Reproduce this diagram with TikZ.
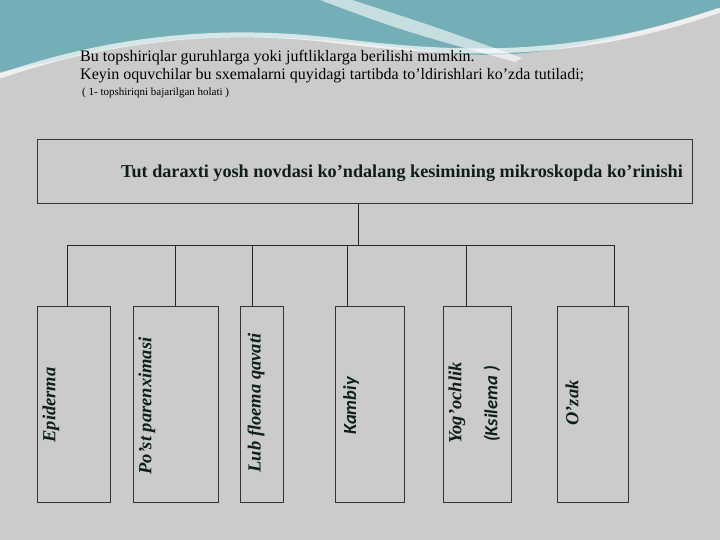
\documentclass[tikz,border=0pt]{standalone}
\usepackage{fontspec}
\setmainfont{Liberation Serif}
\newfontfamily\calib{Carlito}
\definecolor{slidegray}{HTML}{CBCBCB}
\definecolor{slideteal}{HTML}{74AEB6}
\definecolor{inkgreen}{HTML}{0E1F16}
\tikzstyle{plate}=[draw=black!80, line width=0.8pt, inner sep=0pt]
\tikzstyle{part}=[plate, minimum height=196pt, anchor=north west]
\tikzstyle{partname}=[rotate=90, font=\bfseries\itshape\fontsize{18.5}{20}\selectfont, text=inkgreen, inner sep=0pt]
\tikzstyle{branch}=[draw=black!85, line width=0.8pt]

\begin{document}
\begin{tikzpicture}[x=1pt, y=-1pt]
  % slide background
  \useasboundingbox (0,0) rectangle (720,540);
  \clip (0,0) rectangle (720,540);
  \fill[slidegray] (0,0) rectangle (720,540);
  \fill[slideteal] (0,0) -- (720,0) -- (720,8)
    .. controls (600,45) and (520,62) .. (440,52)
    .. controls (330,40) and (200,22) .. (60,60) -- (0,72) -- cycle;
  \draw[white, line width=5pt, opacity=.7] (0,76) .. controls (90,45) and (200,25) .. (330,40)
    .. controls (430,52) and (560,66) .. (720,10);
  \fill[white, opacity=.6] (320,0) .. controls (400,30) .. (515,62) -- (522,58) .. controls (430,25) .. (352,0) -- cycle;

  % heading text
  \node[anchor=base west, inner sep=0pt, font=\fontsize{16}{18}\selectfont] (l1) at (80,62)
    {Bu topshiriqlar guruhlarga yoki juftliklarga berilishi mumkin.};
  \node[anchor=base west, inner sep=0pt, font=\fontsize{16}{18}\selectfont] (l2) at (80,80)
    {Keyin oquvchilar bu sxemalarni quyidagi tartibda to’ldirishlari ko’zda tutiladi;};
  \node[anchor=base west, inner sep=0pt, font=\fontsize{11}{12}\selectfont] (l3) at (82,96)
    {( 1- topshiriqni bajarilgan holati )};

  % title box
  \node[plate, minimum width=655pt, minimum height=64pt, anchor=north west] (title) at (37,139) {};
  \node[font=\bfseries\fontsize{18.2}{20}\selectfont, text=inkgreen, inner sep=0pt] (tt) at (402,173)
    {Tut daraxti yosh novdasi ko’ndalang kesimining mikroskopda ko’rinishi};

  % parts
  \node[part, minimum width=73pt] (epi) at (37,306) {};
  \node[part, minimum width=85pt] (pos) at (133,306) {};
  \node[part, minimum width=43pt] (lub) at (240,306) {};
  \node[part, minimum width=69pt] (kam) at (335,306) {};
  \node[part, minimum width=68pt] (yog) at (443,306) {};
  \node[part, minimum width=71pt] (ozk) at (557,306) {};

  \node[partname] (nepi) at (51,405) {Epiderma};
  \node[partname] (npos) at (147,406) {Po’st parenximasi};
  \node[partname] (nlub) at (256,403) {Lub floema qavati};
  \node[partname, font=\calib\bfseries\itshape\fontsize{18.5}{20}\selectfont] (nkam) at (351,406) {Kambiy};
  \node[partname] (nyog) at (457,403) {Yog’ochlik};
  \node[partname, font=\calib\bfseries\itshape\fontsize{18.5}{20}\selectfont] (nksi) at (492,404) {(Ksilema )};
  \node[partname] (nozk) at (572,403) {O’zak};

  % connectors
  \coordinate (hub) at (358,245);
  \coordinate (d1) at (67,245);
  \coordinate (d6) at (614,245);
  \draw[branch] (title.south -| hub) -- (hub);
  \draw[branch] (d1) -- (d6);
  \draw[branch] (d1) -- (d1 |- epi.north);
  \draw[branch] (175,245) -- (175,245 |- pos.north);
  \draw[branch] (252,245) -- (252,245 |- lub.north);
  \draw[branch] (347,245) -- (347,245 |- kam.north);
  \draw[branch] (466,245) -- (466,245 |- yog.north);
  \draw[branch] (d6) -- (d6 |- ozk.north);
\end{tikzpicture}
\end{document}
